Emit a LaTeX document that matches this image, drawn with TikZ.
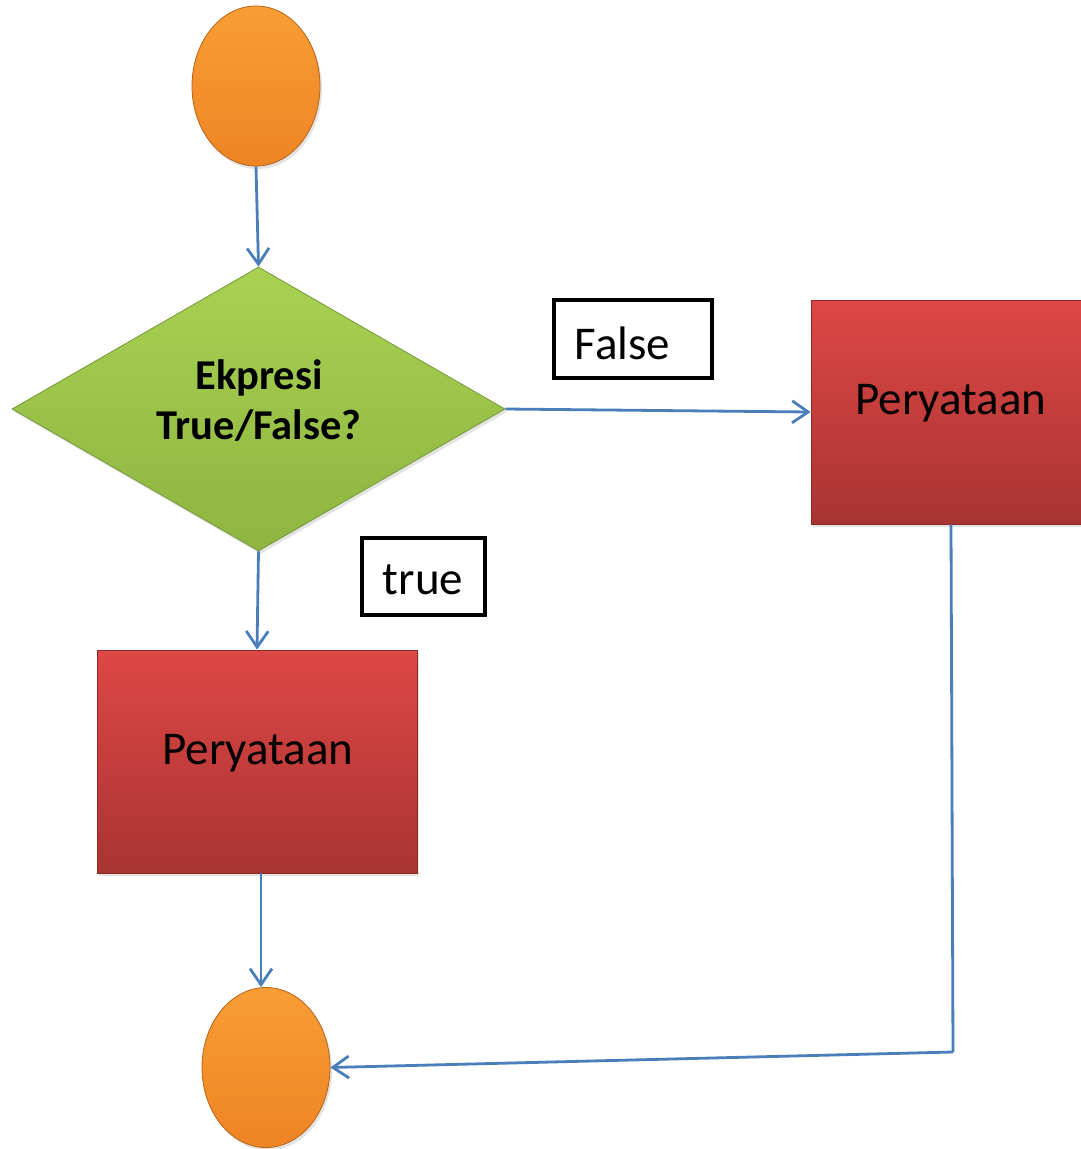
\documentclass[tikz,border=0pt]{standalone}
\usepackage{fontspec}
\setmainfont{Carlito}
\usetikzlibrary{arrows.meta,shapes.geometric,shadows}

\definecolor{orangetop}{HTML}{F99D35}
\definecolor{orangebot}{HTML}{EE8424}
\definecolor{orangeedge}{HTML}{B8631A}
\definecolor{greentop}{HTML}{A9D152}
\definecolor{greenbot}{HTML}{8DB540}
\definecolor{greenedge}{HTML}{76973A}
\definecolor{redtop}{HTML}{DE4745}
\definecolor{redbot}{HTML}{A83432}
\definecolor{rededge}{HTML}{8C2A28}
\definecolor{flowblue}{HTML}{4A7EBB}

\tikzset{
  x=1pt, y=-1pt,
  softshadow/.style={drop shadow={opacity=0.22, shadow xshift=2pt, shadow yshift=-3pt}},
  terminal/.style={ellipse, inner sep=0pt, minimum width=128pt, minimum height=160pt,
    top color=orangetop, bottom color=orangebot, draw=orangeedge, line width=0.8pt, softshadow},
  decision/.style={diamond, inner sep=0pt, aspect=1.736, minimum width=493pt, minimum height=284pt,
    top color=greentop, bottom color=greenbot, draw=greenedge, line width=0.8pt, softshadow},
  condfont/.style={font=\fontsize{42.5}{50}\selectfont\bfseries, align=center},
  process/.style={rectangle, inner sep=0pt, top color=redtop, bottom color=redbot,
    draw=rededge, line width=0.8pt, softshadow},
  procText/.style={font=\fontsize{47}{55}\selectfont},
  tag/.style={rectangle, draw=black, line width=3.5pt, fill=white, inner sep=0pt},
  tagText/.style={font=\fontsize{47}{55}\selectfont},
  flow/.style={draw=flowblue, line width=2.8pt,
    -{Straight Barb[length=16pt, width=22pt, line width=2.8pt]}},
  flowline/.style={draw=flowblue, line width=2.8pt}
}

\begin{document}
\begin{tikzpicture}
  \useasboundingbox (0,0) rectangle (1081,1149);
  \clip (0,0) rectangle (1081,1149);
  \fill[white] (0,0) rectangle (1081,1149);

  % shapes
  \node[terminal] (start) at (256,86) {};
  \node[decision] (cond) at (258.5,409) {};
  \node[condfont] (condtext) at (259,401) {Ekpresi\\True/False?};

  \node[process, minimum width=280pt, minimum height=224pt] (elsebox) at (951,412) {};
  \node[procText] (elsetext) at (951,403) {Peryataan};

  \node[process, minimum width=320pt, minimum height=223pt] (thenbox) at (257,761.5) {};
  \node[procText] (thentext) at (258,753) {Peryataan};

  \node[terminal] (finish) at (266,1067.5) {};

  % branch labels
  \node[tag, minimum width=158pt, minimum height=78pt] (falsetag) at (633,339) {};
  \node[tagText] (falsetext) at (622.5,343) {False};
  \node[tag, minimum width=123pt, minimum height=77pt] (truetag) at (423.5,576.5) {};
  \node[tagText] (truetext) at (423,580) {true};

  % connectors
  \coordinate (turn) at (953,1052);
  \draw[flow] (start.south) -- (cond.north);
  \draw[flow] (cond.east) -- (elsebox.west);
  \draw[flow] (cond.south) -- (thenbox.north);
  \draw[flow] ([xshift=4pt]thenbox.south) -- ([xshift=-5pt]finish.north);
  \draw[flowline] (elsebox.south) -- (turn);
  \draw[flow] (turn) -- (finish.east);
\end{tikzpicture}
\end{document}
